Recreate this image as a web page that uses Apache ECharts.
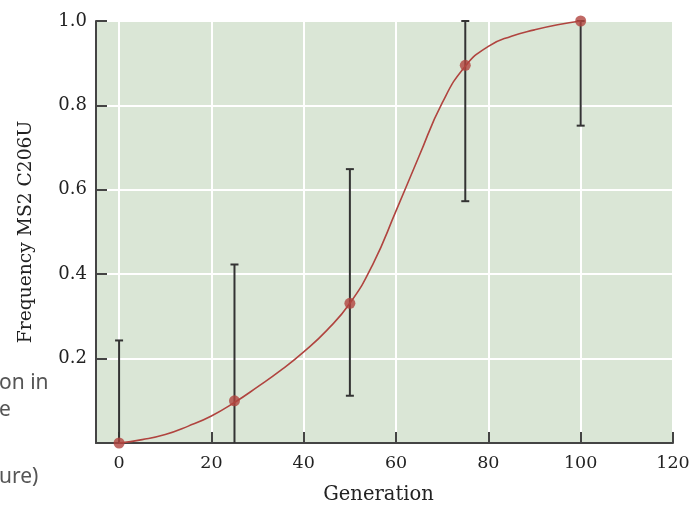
<!DOCTYPE html>
<html>
<head>
<meta charset="utf-8">
<script src="https://cdn.jsdelivr.net/npm/echarts@6/dist/echarts.min.js"></script>
<style>
  html, body { margin: 0; padding: 0; background: #fff; }
  #chart { width: 692px; height: 506px; }
</style>
</head>
<body>
<div id="chart"></div>
<script>
// Generations sampled and mean frequency of the MS2 C206U variant
const generations = [0, 25, 50, 75, 100];
const frequency = [0, 0.10, 0.331, 0.895, 1.0];
// Error bar limits
const lowerBound = [0, 0, 0.112, 0.573, 0.752];
const upperBound = [0.243, 0.423, 0.649, 1.0, 1.0];
// Fitted trend curve (generation, frequency)
const fitX = [0, 5, 10, 15, 20, 25, 30, 35, 40, 45, 50, 55, 60, 65, 70, 75, 80, 85, 90, 95, 100];
const fitY = [0, 0.008, 0.020, 0.040, 0.064, 0.096, 0.133, 0.172, 0.216, 0.267, 0.331, 0.424, 0.550, 0.680, 0.806, 0.893, 0.940, 0.964, 0.979, 0.991, 1.0];
// Tick labels
const xTicks = [0, 20, 40, 60, 80, 100, 120];
const yTicks = [0.2, 0.4, 0.6, 0.8, 1.0];

const serif = "'DejaVu Serif', serif";
const axisColor = '#444';

const chart = echarts.init(document.getElementById('chart'), null, { renderer: 'canvas' });

const errData = generations.map((g, i) => [g, lowerBound[i], upperBound[i]]);

chart.setOption({
  animation: false,
  grid: {
    left: 96, right: 19, top: 21, bottom: 63,
    outerBoundsMode: 'none', containLabel: false,
    show: true, backgroundColor: '#dae6d6', borderWidth: 0
  },
  xAxis: {
    type: 'value', min: -5, max: 120,
    name: 'Generation', nameLocation: 'middle', nameGap: 42,
    nameTextStyle: { fontFamily: serif, fontSize: 19.5, color: '#222', padding: [0, 12, 0, 0] },
    axisLine: { show: true, onZero: false, lineStyle: { color: axisColor, width: 2 } },
    axisTick: { show: true, inside: true, length: 11, customValues: xTicks, lineStyle: { color: axisColor, width: 2 } },
    axisLabel: { customValues: xTicks, fontFamily: serif, fontSize: 17.5, color: '#222', margin: 11 },
    splitLine: { show: true, customValues: xTicks, lineStyle: { color: '#ffffff', width: 2 } }
  },
  yAxis: {
    type: 'value', min: 0, max: 1, interval: 0.2,
    name: 'Frequency MS2 C206U', nameLocation: 'middle', nameGap: 60,
    nameTextStyle: { fontFamily: serif, fontSize: 18.7, color: '#222' },
    axisLine: { show: true, onZero: false, lineStyle: { color: axisColor, width: 2 } },
    axisTick: { show: true, inside: true, length: 11, lineStyle: { color: axisColor, width: 2 } },
    axisLabel: {
      fontFamily: serif, fontSize: 18, color: '#222', margin: 9,
      formatter: v => (yTicks.some(t => Math.abs(t - v) < 1e-9) ? v.toFixed(1) : '')
    },
    splitLine: { show: true, lineStyle: { color: '#ffffff', width: 2 } }
  },
  graphic: [
    { type: 'text', left: -1, top: 373, style: { text: 'on in', fontFamily: "'Noto Sans', sans-serif", fontSize: 21, fill: '#555' } },
    { type: 'text', left: -1, top: 400, style: { text: 'e', fontFamily: "'Noto Sans', sans-serif", fontSize: 21, fill: '#555' } },
    { type: 'text', left: -1, top: 467, style: { text: 'ure)', fontFamily: "'Noto Sans', sans-serif", fontSize: 21, fill: '#555' } }
  ],
  series: [
    {
      type: 'custom',
      z: 3,
      data: errData,
      renderItem: (params, api) => {
        const x = api.value(0);
        const lo = api.coord([x, api.value(1)]);
        const hi = api.coord([x, api.value(2)]);
        const cap = 4;
        const style = { stroke: '#333', lineWidth: 2 };
        const children = [
          { type: 'line', shape: { x1: lo[0], y1: lo[1], x2: hi[0], y2: hi[1] }, style }
        ];
        if (api.value(2) > 0) {
          children.push({ type: 'line', shape: { x1: hi[0] - cap, y1: hi[1], x2: hi[0] + cap, y2: hi[1] }, style });
        }
        if (api.value(1) > 0) {
          children.push({ type: 'line', shape: { x1: lo[0] - cap, y1: lo[1], x2: lo[0] + cap, y2: lo[1] }, style });
        }
        return { type: 'group', children };
      }
    },
    {
      type: 'line',
      z: 4,
      data: fitX.map((x, i) => [x, fitY[i]]),
      smooth: 0.5,
      showSymbol: false,
      lineStyle: { color: '#b0443f', width: 1.6 }
    },
    {
      type: 'scatter',
      z: 5,
      data: generations.map((g, i) => [g, frequency[i]]),
      symbolSize: 11,
      itemStyle: { color: '#b0443f' }
    }
  ]
});
</script>
</body>
</html>
